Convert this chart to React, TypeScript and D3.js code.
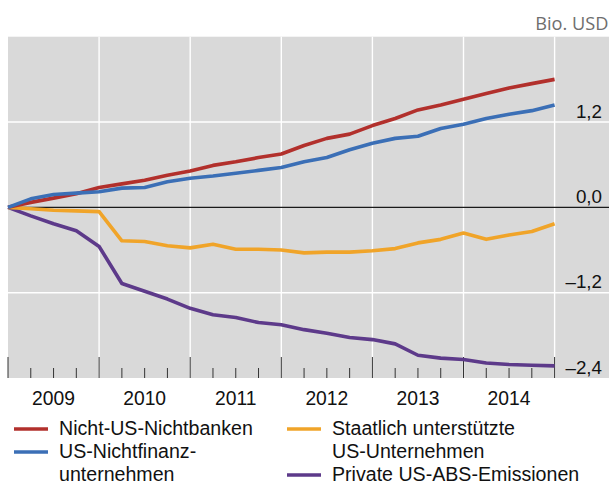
import React from "react";
import * as d3 from "d3";

const quarters: number[] = Array.from({ length: 25 }, (_, i) => i);
const years = ["2009", "2010", "2011", "2012", "2013", "2014"];
const yTicks = [1.2, 0, -1.2, -2.4];

const nichtUSNichtbanken = [0, 0.07, 0.13, 0.19, 0.28, 0.33, 0.38, 0.45, 0.51, 0.59, 0.64, 0.7, 0.75, 0.87, 0.97, 1.03, 1.15, 1.25, 1.37, 1.44, 1.52, 1.6, 1.68, 1.74, 1.8];
const usNichtfinanz = [0, 0.12, 0.18, 0.2, 0.22, 0.27, 0.28, 0.36, 0.41, 0.44, 0.48, 0.52, 0.56, 0.64, 0.7, 0.81, 0.9, 0.97, 1.0, 1.11, 1.17, 1.25, 1.31, 1.36, 1.44];
const staatlich = [0, -0.02, -0.04, -0.05, -0.06, -0.47, -0.48, -0.54, -0.57, -0.52, -0.59, -0.59, -0.6, -0.64, -0.63, -0.63, -0.61, -0.58, -0.5, -0.45, -0.36, -0.45, -0.39, -0.34, -0.23];
const privateABS = [0, -0.12, -0.23, -0.33, -0.55, -1.07, -1.18, -1.29, -1.42, -1.51, -1.55, -1.62, -1.65, -1.72, -1.77, -1.83, -1.86, -1.92, -2.08, -2.12, -2.14, -2.19, -2.21, -2.22, -2.23];

const seriesNames = ["Nicht-US-Nichtbanken", "US-Nichtfinanz-\nunternehmen", "Staatlich unterstützte\nUS-Unternehmen", "Private US-ABS-Emissionen"];
const seriesColors = ["#b2302c", "#3b6fb6", "#f0a429", "#5d3a8a"];

const W = 609;
const H = 483;
const left = 8;
const plotRight = 609;
const top = 36.7;
const bottom = 378;

export default function App() {
  const x = d3.scaleLinear().domain([0, 24]).range([left, 554.6]);
  const y = d3.scaleLinear().domain([-2.4, 2.4]).range([bottom, top]);
  const line = d3
    .line<number>()
    .x((_, i) => x(quarters[i]))
    .y((d) => y(d));

  const all = [nichtUSNichtbanken, usNichtfinanz, staatlich, privateABS];
  const drawOrder = [3, 2, 0, 1];
  const font = "'Liberation Sans', Arial, sans-serif";
  const fmt = (v: number) => (v < 0 ? "\u2013" : "") + Math.abs(v).toFixed(1).replace(".", ",");

  const legendItems = [
    { idx: 0, x: 14, y: 435 },
    { idx: 1, x: 14, y: 458 },
    { idx: 2, x: 287, y: 435 },
    { idx: 3, x: 287, y: 481 },
  ];
  const lineH = 23;

  return (
    <svg width={W} height={H} style={{ position: "absolute", left: 0, top: 0 }} fontFamily={font}>
      <rect x={left} y={top} width={plotRight - left} height={bottom - top} fill="#d9d9d9" />
      {yTicks
        .filter((v) => v !== 0 && v !== -2.4)
        .map((v) => (
          <line key={"h" + v} x1={left} x2={plotRight} y1={y(v)} y2={y(v)} stroke="#fff" strokeWidth={1.4} />
        ))}
      {quarters
        .filter((q) => q % 4 === 0 && q > 0)
        .map((q) => (
          <line key={"v" + q} x1={x(q)} x2={x(q)} y1={top} y2={bottom} stroke="#fff" strokeWidth={1.4} />
        ))}
      <line x1={left} x2={plotRight} y1={y(0)} y2={y(0)} stroke="#1a1a1a" strokeWidth={1.2} />
      {quarters.map((q) => (
        <line
          key={"t" + q}
          x1={x(q)}
          x2={x(q)}
          y1={q % 4 === 0 ? 357 : 368}
          y2={bottom}
          stroke="#333"
          strokeWidth={1}
        />
      ))}
      {drawOrder.map((i) => (
        <path
          key={"s" + i}
          d={line(all[i]) || ""}
          fill="none"
          stroke={seriesColors[i]}
          strokeWidth={3.6}
          strokeLinejoin="round"
        />
      ))}
      {yTicks.map((v) => (
        <text key={"yl" + v} x={602} y={y(v) - 4.5} textAnchor="end" fontSize={18.8} fill="#111">
          {fmt(v)}
        </text>
      ))}
      <text x={608.5} y={30} textAnchor="end" fontSize={18.2} fill="#6e6e6e" fontFamily="'Open Sans', sans-serif">
        Bio. USD
      </text>
      {years.map((yr, k) => (
        <text key={yr} x={(x(k * 4) + x(k * 4 + 4)) / 2} y={405} textAnchor="middle" fontSize={19.3} fill="#111">
          {yr}
        </text>
      ))}
      {legendItems.map((it) => {
        const lines = seriesNames[it.idx].split("\n");
        return (
          <g key={"lg" + it.idx}>
            <line x1={it.x} x2={it.x + 34} y1={it.y - 6} y2={it.y - 6} stroke={seriesColors[it.idx]} strokeWidth={3.6} />
            <text x={it.x + 45} y={it.y} fontSize={19.6} fill="#111">
              {lines.map((l, j) => (
                <tspan key={j} x={it.x + 45} y={it.y + j * lineH}>
                  {l}
                </tspan>
              ))}
            </text>
          </g>
        );
      })}
    </svg>
  );
}
